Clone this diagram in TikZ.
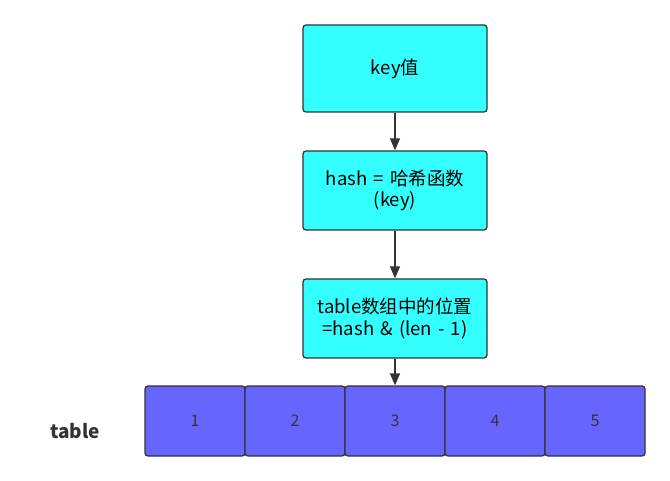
\documentclass[tikz,border=0pt]{standalone}
\usepackage{fontspec}
\setmainfont{Noto Sans CJK SC}
\usetikzlibrary{positioning,arrows.meta}
\definecolor{boxcyan}{HTML}{33FFFF}
\definecolor{cellblue}{HTML}{6666FF}
\definecolor{edgegray}{HTML}{333333}
\tikzset{
  stepbox/.style={draw=edgegray, line width=1.3pt, fill=boxcyan, rounded corners=3pt,
    minimum width=184pt, text width=176pt, inner xsep=4pt, align=center, font=\fontsize{18.5}{21.5}\selectfont},
  cell/.style={draw=edgegray, line width=1.3pt, fill=cellblue, rounded corners=3pt,
    minimum width=100pt, minimum height=70pt, text=edgegray, font=\fontsize{16}{18}\selectfont},
  flow/.style={draw=edgegray, line width=1.3pt, -{Triangle[length=12pt,width=10pt]}}
}
\begin{document}
\begin{tikzpicture}[x=1pt,y=-1pt]
\useasboundingbox (0,0) rectangle (670,481);
% boxes
\node[stepbox, minimum height=87pt] (key) at (395,68.5) {key值};
\node[stepbox, minimum height=79pt] (hash) at (395,190.5) {hash = 哈希函数\\(key)};
\node[stepbox, minimum height=79pt] (pos) at (395,318.5) {table数组中的位置\\=hash \& (len - 1)};
% table
\foreach \i in {1,...,5}
  \node[cell] (c\i) at (95+100*\i,421) {\i};
\node[font=\fontsize{19}{22}\selectfont\bfseries, text=edgegray] (tbl) at (75,431) {table};
% arrows
\draw[flow] (key) -- (hash);
\draw[flow] (hash) -- (pos);
\draw[flow] (pos) -- (c3);
\end{tikzpicture}
\end{document}
